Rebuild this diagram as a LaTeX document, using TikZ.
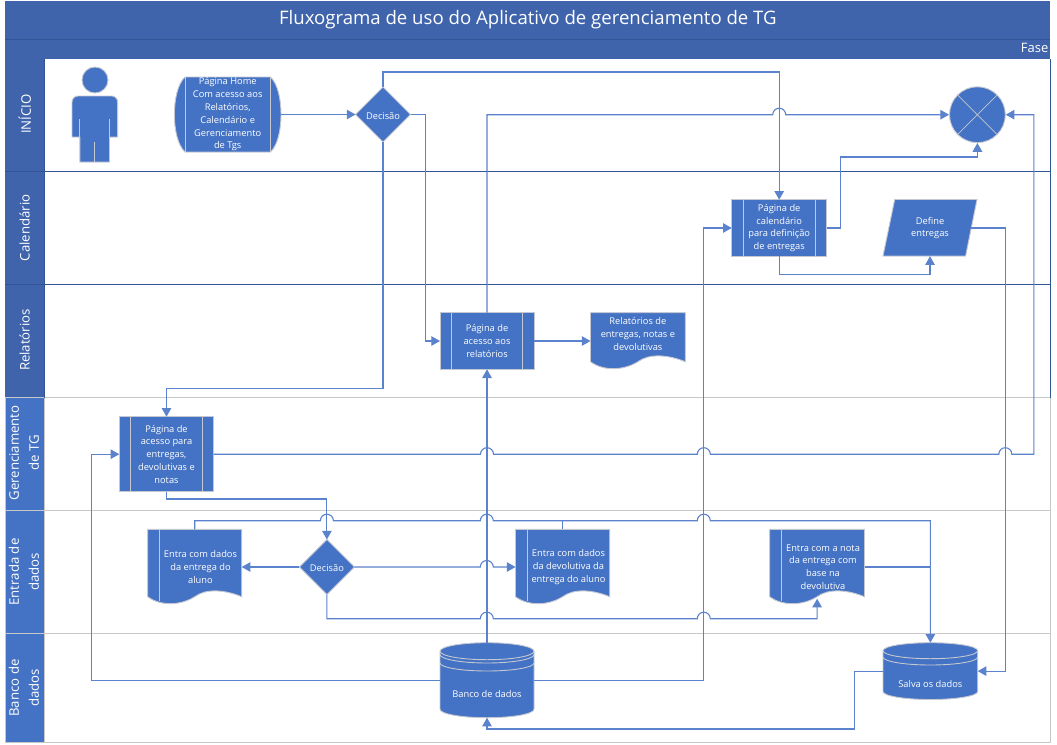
\documentclass[tikz,border=0pt]{standalone}
\usepackage{fontspec}
\setmainfont{Open Sans}
\usetikzlibrary{arrows.meta,shapes.geometric,calc}
\definecolor{fillb}{HTML}{4472C4}
\definecolor{bandb}{HTML}{3F64AC}
\definecolor{navy}{HTML}{2F5597}
\definecolor{edgeg}{HTML}{C4C8D0}
\definecolor{laneg}{HTML}{C8C8C8}
\definecolor{conn}{HTML}{5B82CC}
\tikzset{
  x=1pt,y=-1pt,
  box/.style={text=white,font=\fontsize{9.3}{12.8}\selectfont,align=center,inner sep=0pt,outer sep=0pt,execute at begin node={\rule{0pt}{10pt}}},
  proc/.style n args={2}{box,rectangle,draw=edgeg,line width=0.9pt,fill=fillb,minimum width=#1,minimum height=#2,
    path picture={\draw[edgeg,line width=0.9pt]
      ([xshift=11.5pt]path picture bounding box.north west)--([xshift=11.5pt]path picture bounding box.south west)
      ([xshift=-11.5pt]path picture bounding box.north east)--([xshift=-11.5pt]path picture bounding box.south east);}},
  plain/.style n args={2}{box,rectangle,minimum width=#1,minimum height=#2},
  deci/.style={box,diamond,aspect=1,draw=edgeg,line width=0.9pt,fill=fillb,minimum width=55pt,minimum height=55pt},
  shapeb/.style={fill=fillb,draw=edgeg,line width=0.9pt},
  inner/.style={edgeg,line width=0.9pt},
  cn/.style={conn,line width=1.1pt},
  ar/.style={cn,-{Triangle[length=8.7pt,width=9.5pt]}},
  lanelab/.style={text=white,rotate=90,align=center,inner sep=0pt,font=\fontsize{13.2}{20}\selectfont,minimum height=38.6pt},
}
\newcommand{\docpath}[4]{% x1,x2,ytop,yedge
  \path[shapeb] (#1,#3) -- (#2,#3) -- (#2,#4)
    .. controls ($(#2,#4)+(-0.18*#2+0.18*#1,-7)$) and ($(#1,#4)+(0.62*#2-0.62*#1,-8.5)$) .. ($(#1,#4)+(0.5*#2-0.5*#1,0)$)
    .. controls ($(#1,#4)+(0.36*#2-0.36*#1,8.5)$) and ($(#1,#4)+(0.14*#2-0.14*#1,10)$) .. (#1,#4) -- cycle;}
\newcommand{\cylpath}[6]{% x1,x2,ytop,ybot,ry,half width in pt
  \path[shapeb] (#1,#3+#5) arc[start angle=180,end angle=0,x radius=#6pt,y radius=#5pt]
    -- (#2,#4-#5) arc[start angle=0,end angle=-180,x radius=#6pt,y radius=#5pt] -- cycle;}
\begin{document}
\begin{tikzpicture}
\useasboundingbox (0,0) rectangle (1057,744);
\fill[white] (0,0) rectangle (1057,744);
% title bands
\node[fill=bandb,text=white,minimum width=1044.9pt,minimum height=38pt,inner sep=0pt,font=\fontsize{18.6}{20}\selectfont] (title) at (527.85,20) {Fluxograma de uso do Aplicativo de gerenciamento de TG};
\node[fill=bandb,minimum width=1044.9pt,minimum height=20pt,inner sep=0pt] (band) at (527.85,49) {};
\node[text=white,anchor=east,inner sep=0pt,font=\fontsize{13}{14}\selectfont] (fase) at (1048.5,48) {Fase};
\draw[navy,line width=0.8pt] (5.4,39) -- (1050.3,39);
% lanes
\draw[navy,line width=1pt] (5.4,171) -- (1050.3,171) (5.4,284.5) -- (1050.3,284.5);
\draw[laneg,line width=1pt] (5.4,397.5) -- (1050.3,397.5) (5.4,510.5) -- (1050.3,510.5) (5.4,633) -- (1050.3,633);
\draw[navy,line width=1pt] (5.4,59) -- (5.4,397.5) (1050.3,59) -- (1050.3,397.5);
\draw[laneg,line width=1pt] (5.4,397.5) -- (5.4,742) -- (1050.3,742) -- (1050.3,397.5);
% lane labels
\fill[bandb] (5.4,59) rectangle (44,397.5);
\fill[fillb] (5.9,397.5) rectangle (43.5,741.5);
\draw[navy,line width=0.8pt] (5.4,171) -- (44,171) (5.4,284.5) -- (44,284.5) (44,59) -- (44,397.5);
\draw[laneg,line width=1pt] (5.4,397.5) -- (44,397.5) (5.4,510.5) -- (44,510.5) (5.4,633) -- (44,633) (44,397.5) -- (44,742);
\node[lanelab] (l1) at (24.7,114) {INÍCIO};
\node[lanelab] (l2) at (24.7,228) {Calendário};
\node[lanelab] (l3) at (24.7,340) {Relatórios};
\node[lanelab] (l4) at (24,453) {Gerenciamento\\de TG};
\node[lanelab] (l5) at (24,572) {Entrada de\\dados};
\node[lanelab] (l6) at (24,688) {Banco de\\dados};
% actor
\path[shapeb] (72,137) -- (72,102) arc[start angle=180,end angle=90,radius=6pt] -- (111.6,96) arc[start angle=90,end angle=0,radius=6pt] -- (117.6,137) -- (109.5,137) -- (109.5,162) -- (79.8,162) -- (79.8,137) -- cycle;
\draw[inner] (79.8,119) -- (79.8,137) (109.5,119) -- (109.5,137) (94.7,141.7) -- (94.7,162);
\path[shapeb] (95,80) circle[radius=13pt];
% home
\path[shapeb] (185,77) -- (270.5,77) .. controls (278,84) and (281,100) .. (281,114.5) .. controls (281,129) and (278,145) .. (270.5,152) -- (185,152) .. controls (177.5,145) and (174.4,129) .. (174.4,114.5) .. controls (174.4,100) and (177.5,84) .. (185,77) -- cycle;
\draw[inner] (185,77) -- (185,152) (270.5,77) -- (270.5,152);
\node[plain={106.6pt}{75pt}] (home) at (227.7,114.5) {Página Home\\Com acesso aos\\Relatórios,\\Calendário e\\Gerenciamento\\de Tgs};
% decisions
\node[deci] (dec1) at (383,114.5) {Decisão};
\node[deci] (dec2) at (326.9,567) {Decisão};
% end
\node[circle,draw=edgeg,line width=0.9pt,fill=fillb,minimum size=55.8pt,inner sep=0pt,
  path picture={\draw[edgeg,line width=0.7pt] (path picture bounding box.north west)--(path picture bounding box.south east) (path picture bounding box.north east)--(path picture bounding box.south west);}] (fim) at (977.4,114.7) {};
% pages
\node[proc={95pt}{56.5pt}] (cal) at (779.2,228) {Página de\\calendário\\para definição\\de entregas};
\node[proc={94pt}{56.6pt}] (rel) at (487,341) {Página de\\acesso aos\\relatórios};
\node[proc={94.4pt}{75pt}] (ger) at (166.5,454.2) {Página de\\acesso para\\entregas,\\devolutivas e\\notas};
% define
\path[shapeb] (894.7,199.5) -- (977,199.5) -- (965.6,256) -- (883,256) -- cycle;
\node[plain={82pt}{56.5pt}] (deft) at (930,228) {Define\\entregas};
% documents
\docpath{590.5}{685.3}{312.7}{361.7}
\node[plain={94.8pt}{43pt}] (rd) at (637.9,334.2) {Relatórios de\\entregas, notas e\\devolutivas};
\docpath{147.7}{241.7}{529.3}{596.7}
\draw[inner] (159.2,529.3) -- (159.2,601);
\node[plain={94pt}{75.4pt}] (d1) at (194.7,567) {};
\node[plain={78pt}{40pt}] (d1t) at (200.5,567) {Entra com dados\\da entrega do\\aluno};
\docpath{515.5}{609.7}{529.3}{596.7}
\draw[inner] (527.4,529.3) -- (527.4,601);
\node[plain={94.2pt}{75.4pt}] (d2) at (562.6,567) {};
\node[plain={80pt}{40pt}] (d2t) at (568.5,567) {Entra com dados\\da devolutiva da\\entrega do aluno};
\docpath{769.7}{864.5}{529.3}{596.7}
\draw[inner] (781.4,529.3) -- (781.4,601);
\node[plain={94.8pt}{75.4pt}] (d3) at (817.1,567) {};
\node[plain={78pt}{52pt}] (d3t) at (823,567) {Entra com a nota\\da entrega com\\base na\\devolutiva};
% cylinders
\cylpath{440}{534}{642.7}{717.7}{8.5}{47}
\draw[inner] (440,651.2) arc[start angle=180,end angle=360,x radius=47pt,y radius=8.5pt] (440,654.5) arc[start angle=180,end angle=360,x radius=47pt,y radius=8.5pt] (440,663) arc[start angle=180,end angle=360,x radius=47pt,y radius=8pt];
\node[plain={94pt}{75pt}] (bd) at (487,680.2) {\smash{\raisebox{-12pt}{Banco de dados}}};
\cylpath{883}{977.7}{642.7}{699.5}{8}{47.35}
\draw[inner] (883,650.7) arc[start angle=180,end angle=360,x radius=47.35pt,y radius=8pt] (883,657) arc[start angle=180,end angle=360,x radius=47.35pt,y radius=8pt];
\node[plain={94.7pt}{56.8pt}] (sv) at (930.35,671.1) {\smash{\raisebox{-11pt}{Salva os dados}}};
% helper coordinates
\coordinate (y72) at (0,72);
\coordinate (y388) at (0,388.3);
\coordinate (y499) at (0,499);
\coordinate (y521) at (0,520.7);
\coordinate (y619) at (0,618.7);
\coordinate (x425) at (425.6,0);
\coordinate (x840) at (840.3,0);
\coordinate (y157) at (0,157);
\coordinate (y275) at (0,274.7);
\coordinate (x1005) at (1005.3,0);
\coordinate (x91) at (91.3,0);
\coordinate (x704) at (703.8,0);
\coordinate (x1034) at (1033.9,0);
\coordinate (x855) at (854.7,0);
\coordinate (y729) at (0,729);
\coordinate (defe) at (971.3,228);
% connectors
\draw[ar] (home.east) -- (dec1.west);
\draw[ar] (dec1.north) -- (dec1.north |- y72) -- (cal.north |- y72) -- (cal.north);
\draw[ar] (dec1.east) -- (dec1.east -| x425) -- (rel.west -| x425) -- (rel.west);
\draw[ar] (dec1.south) -- (dec1.south |- y388) -- (ger.north |- y388) -- (ger.north);
\draw[ar] (rel.north) -- (rel.north |- fim.west) -- (772.7,114.7) arc[start angle=180,end angle=0,radius=6.5pt] -- (fim.west);
\draw[ar] (cal.east) -- (cal.east -| x840) -- (x840 |- y157) -- (fim.south |- y157) -- (fim.south);
\draw[ar] (cal.south) -- (cal.south |- y275) -- (deft.south |- y275) -- (deft.south);
\draw[ar] (defe) -- (defe -| x1005) -- (sv.east -| x1005) -- (sv.east);
\draw[ar] (rel.east) -- (rel.east -| rd.west);
\draw[ar] (bd.east) -- (bd.east -| x704) -- (cal.west -| x704) -- (cal.west);
\draw[ar] (bd.west) -- (bd.west -| x91) -- (ger.west -| x91) -- (ger.west);
\draw[ar] (ger.east) -- (480.5,454.2) arc[start angle=180,end angle=0,radius=6.5pt] -- (697.3,454.2) arc[start angle=180,end angle=0,radius=6.5pt] -- (998.8,454.2) arc[start angle=180,end angle=0,radius=6.5pt] -- (ger.east -| x1034) -- (fim.east -| x1034) -- (fim.east);
\draw[ar] (ger.south) -- (ger.south |- y499) -- (dec2.north |- y499) -- (dec2.north);
\draw[ar] (dec2.west) -- (d1.east);
\draw[ar] (dec2.east) -- (480.3,567) arc[start angle=180,end angle=0,radius=6.5pt] -- (d2.west);
\draw[ar] (dec2.south) -- (dec2.south |- y619) -- (480.3,618.7) arc[start angle=180,end angle=0,radius=6.5pt] -- (697.3,618.7) arc[start angle=180,end angle=0,radius=6.5pt] -- (817.1,618.7) -- ([yshift=6pt]d3.south);
\draw[ar] (d1.north) -- (d1.north |- y521) -- (320.4,520.7) arc[start angle=180,end angle=0,radius=6.5pt] -- (480.3,520.7) arc[start angle=180,end angle=0,radius=6.5pt] -- (697.3,520.7) arc[start angle=180,end angle=0,radius=6.5pt] -- (sv.north |- y521) -- (sv.north);
\draw[cn] (d2.north) -- (d2.north |- y521);
\draw[cn] (d3.east) -- (d3.east -| sv.north);
\draw[ar] (rel.south |- bd.north) -- (rel.south);
\draw[ar] (sv.west) -- (sv.west -| x855) -- (x855 |- y729) -- (bd.south |- y729) -- (bd.south);
\end{tikzpicture}
\end{document}
